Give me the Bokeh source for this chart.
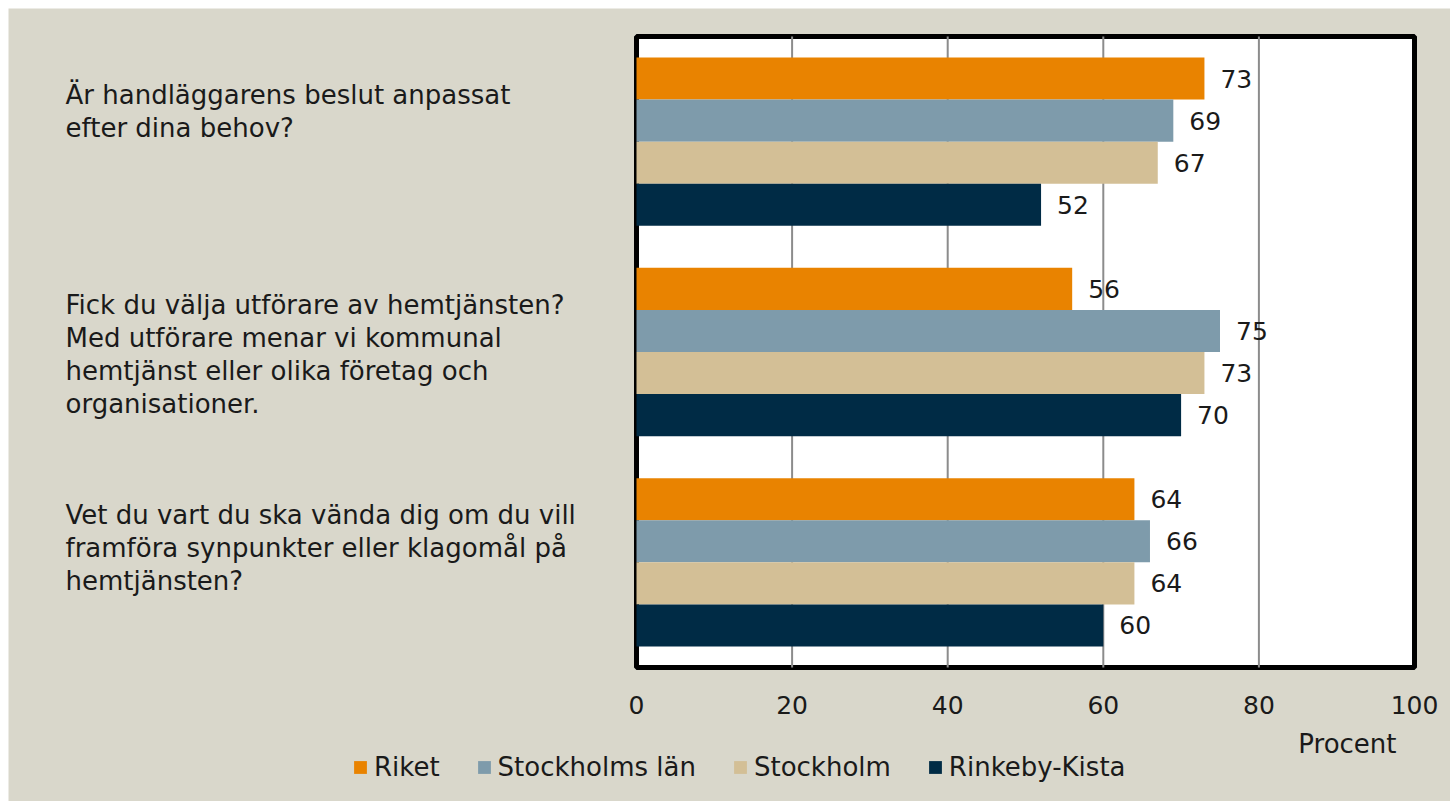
from bokeh.plotting import figure
from bokeh.models import Range1d, Legend, LegendItem, ColumnDataSource, BoxAnnotation
from bokeh.transform import dodge
from bokeh.core.properties import value
from bokeh.embed import file_html
from bokeh.resources import INLINE

questions = [
    "Är handläggarens beslut anpassat\nefter dina behov?",
    "Fick du välja utförare av hemtjänsten?\nMed utförare menar vi kommunal\nhemtjänst eller olika företag och\norganisationer.",
    "Vet du vart du ska vända dig om du vill\nframföra synpunkter eller klagomål på\nhemtjänsten?",
]
series_names = ["Riket", "Stockholms län", "Stockholm", "Rinkeby-Kista"]
riket = [73, 56, 64]
stockholms_lan = [69, 75, 66]
stockholm = [67, 73, 64]
rinkeby_kista = [52, 70, 60]
series_values = [riket, stockholms_lan, stockholm, rinkeby_kista]
colors = ["#E98300", "#7E9BAB", "#D3BF96", "#002B45"]
x_ticks = [0, 20, 40, 60, 80, 100]
grid_ticks = [20, 40, 60, 80]
axis_title = "Procent"

FONT = "DejaVu Sans"
FS = "26px"
NFS = "25px"
TXT = "#1A1A1A"
BG = "#D9D7CB"

W, H = 1450, 801
n = len(questions)
X0, X1 = 0, 100

# pixel layout of the plotting box (canvas coords)
BOX_L, BOX_R, BOX_T, BOX_B = 636, 1414, 36, 667
M = 8
ppx = (BOX_R - BOX_L) / (X1 - X0)
ppy = (BOX_B - BOX_T) / n

p = figure(width=W, height=H, output_backend="svg", toolbar_location=None,
           x_range=Range1d(X0 - (BOX_L - M) / ppx, X1 + (W - BOX_R) / ppx),
           y_range=Range1d(0 - (H - BOX_B) / ppy, n + (BOX_T - M) / ppy),
           x_axis_location=None, y_axis_location=None,
           min_border_left=M, min_border_top=M, min_border_right=0, min_border_bottom=0)
p.border_fill_color = "white"
p.background_fill_color = BG
p.outline_line_color = None
p.grid.grid_line_color = None

# plotting box
p.add_layout(BoxAnnotation(left=X0, right=X1, bottom=0, top=n, fill_color="white",
                           fill_alpha=1, line_color="black", line_alpha=1, line_width=5,
                           level="image"))

# vertical grid lines
p.segment(x0=grid_ticks, x1=grid_ticks, y0=[0] * len(grid_ticks), y1=[n] * len(grid_ticks),
          line_color="#8C8C8C", line_width=2)

centers = [n - i - 0.5 for i in range(n)]
items = []
for j, (name, vals, col) in enumerate(zip(series_names, series_values, colors)):
    off = 0.3 - 0.2 * j
    src = ColumnDataSource(dict(y=centers, x=vals, label=[str(v) for v in vals]))
    r = p.hbar(y=dodge("y", off, range=p.y_range), right="x", left=0, height=0.2,
               source=src, fill_color=col, line_color=None)
    p.text(x="x", y=dodge("y", off, range=p.y_range), text="label", source=src,
           x_offset=16, text_font=value(FONT), text_font_size=NFS, text_color=TXT,
           text_baseline="middle", text_align="left")
    items.append(LegendItem(label=name, renderers=[r]))

# question labels
qsrc = ColumnDataSource(dict(x=[X0] * n, y=[n - i for i in range(n)], text=questions))
p.text(x="x", y="y", text="text", source=qsrc, x_offset=-571, y_offset=43,
       text_font=value(FONT), text_font_size=FS, text_color=TXT,
       text_align="left", text_baseline="top", text_line_height=1.1)

# x tick labels
tsrc = ColumnDataSource(dict(x=x_ticks, y=[0] * len(x_ticks), text=[str(t) for t in x_ticks]))
p.text(x="x", y="y", text="text", source=tsrc, y_offset=37,
       text_font=value(FONT), text_font_size=NFS, text_color=TXT,
       text_align="center", text_baseline="middle")

# axis title
p.text(x=[X1], y=[0], text=[axis_title], x_offset=-18, y_offset=76,
       text_font=value(FONT), text_font_size=FS, text_color=TXT,
       text_align="right", text_baseline="middle")

legend = Legend(items=items, orientation="horizontal", location=(344, 19),
                glyph_width=16, glyph_height=16, label_standoff=6, spacing=36,
                padding=0, margin=0, border_line_color=None,
                background_fill_alpha=0,
                label_text_font=FONT, label_text_font_size=FS, label_text_color=TXT)
p.add_layout(legend, "center")

open("out.html", "w").write(file_html(p, INLINE))
